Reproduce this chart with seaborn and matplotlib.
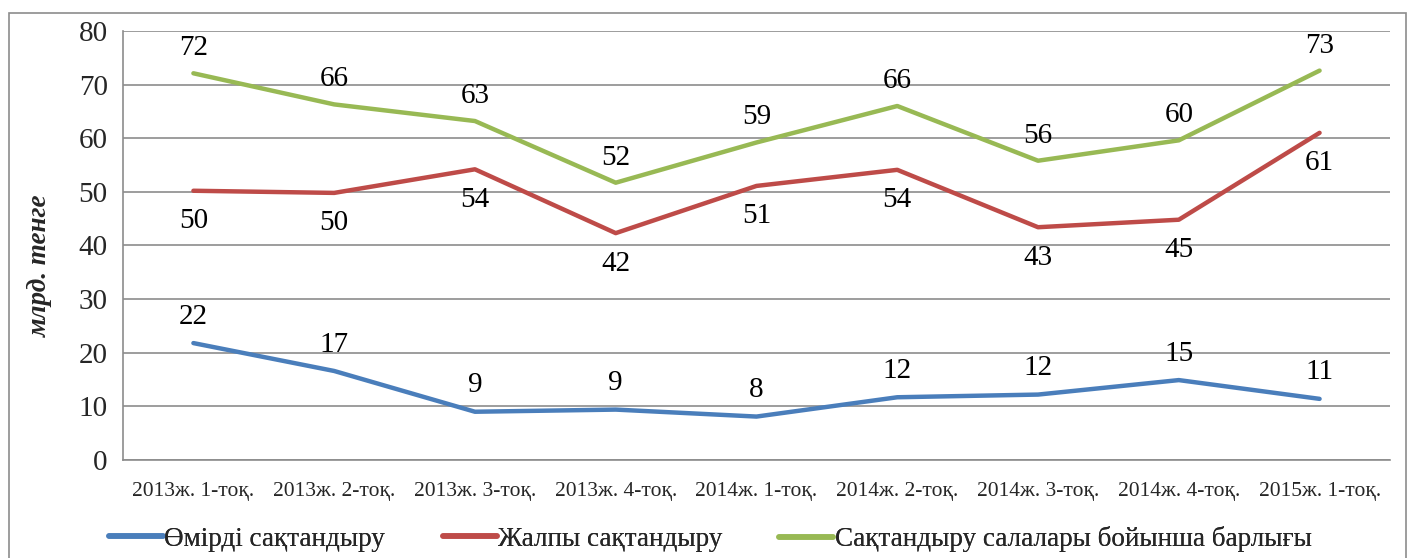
import matplotlib
matplotlib.use("Agg")
import matplotlib.pyplot as plt
import seaborn as sns
import pandas as pd
from matplotlib.lines import Line2D
from matplotlib.patches import Rectangle

categories = ["2013ж. 1-тоқ.", "2013ж. 2-тоқ.", "2013ж. 3-тоқ.", "2013ж. 4-тоқ.",
              "2014ж. 1-тоқ.", "2014ж. 2-тоқ.", "2014ж. 3-тоқ.", "2014ж. 4-тоқ.",
              "2015ж. 1-тоқ."]
life = [21.8, 16.6, 9.0, 9.4, 8.1, 11.7, 12.2, 14.9, 11.4]
general = [50.2, 49.8, 54.2, 42.3, 51.1, 54.1, 43.4, 44.8, 61.0]
total = [72.1, 66.3, 63.2, 51.7, 59.2, 66.0, 55.8, 59.6, 72.6]
series_names = ["Өмірді сақтандыру", "Жалпы сақтандыру", "Сақтандыру салалары бойынша барлығы"]
colors = ["#4a7ebb", "#be4b48", "#98b954"]
ylabel = "млрд. тенге"

sns.set_theme(style="white")
plt.rcParams["font.family"] = ["Liberation Serif", "DejaVu Serif"]

rows = []
for name, vals in zip(series_names, [life, general, total]):
    for i, v in enumerate(vals):
        rows.append({"x": i, "value": v, "series": name})
df = pd.DataFrame(rows)

fig = plt.figure(figsize=(14.14, 5.58), dpi=100)
ax = fig.add_axes([0.087, 0.1756, 0.896, 0.769])

sns.lineplot(data=df, x="x", y="value", hue="series", hue_order=series_names,
             palette=colors, linewidth=3.2, ax=ax, legend=False, sort=False)

ax.set_xlim(-0.5, len(categories) - 0.5)
ax.set_ylim(0, 80)
ax.set_yticks(range(0, 81, 10))
ax.set_xticks(range(len(categories)))
ax.set_xticklabels(categories, fontsize=15.5)
ax.tick_params(axis="y", labelsize=21, pad=11, length=0)
ax.tick_params(axis="x", pad=16, length=0)
ax.yaxis.grid(True, color="#8c8c8c", linewidth=1.2)
ax.set_axisbelow(True)
for s in ["top", "right"]:
    ax.spines[s].set_visible(False)
for s in ["left", "bottom"]:
    ax.spines[s].set_color("#8c8c8c")
    ax.spines[s].set_linewidth(1.2)
ax.set_xlabel("")
ax.set_ylabel("")
fig.text(40 / 1414, 1 - 266 / 558, ylabel, rotation=90, ha="center", va="center",
         fontsize=19.5, fontweight="bold", fontstyle="italic")

offsets = [19, -22, 18]
for vals, off in zip([life, general, total], offsets):
    for i, v in enumerate(vals):
        ax.annotate(f"{v:.0f}", (i, v), xytext=(0, off), textcoords="offset points",
                    ha="center", va="center", fontsize=21, color="black")

# legend entries placed as in the reference
legend_x = [0.077, 0.313, 0.551]
for name, c, lx in zip(series_names, colors, legend_x):
    h = Line2D([0], [0], color=c, linewidth=4)
    lg = fig.legend([h], [name], loc="center left", bbox_to_anchor=(lx, 1 - 539 / 558),
                    frameon=False, fontsize=19.5, handlelength=2.0, handletextpad=0.05,
                    borderaxespad=0, borderpad=0)
    fig.add_artist(lg)

fig.patches.append(Rectangle((0.0065, -0.02), 0.988, 0.997, transform=fig.transFigure,
                             fill=False, edgecolor="#8c8c8c", linewidth=1.2))

fig.savefig("out.png", dpi=100)
